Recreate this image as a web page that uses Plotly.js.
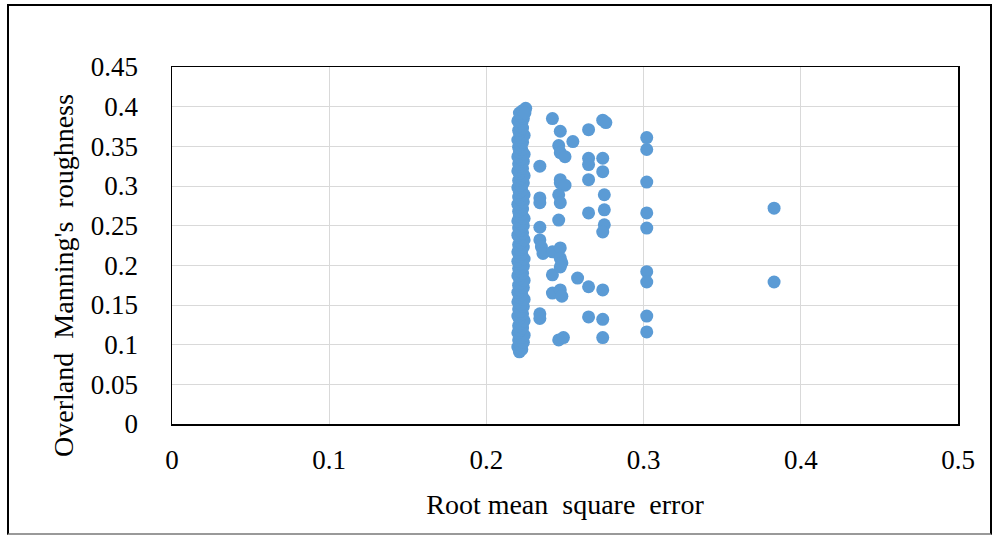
<!DOCTYPE html>
<html>
<head>
<meta charset="utf-8">
<script src="https://cdn.plot.ly/plotly-3.0.1.min.js"></script>
<style>
  html, body { margin: 0; padding: 0; background: #fff; }
  #wrap { position: relative; width: 996px; height: 536px; }
  #chart { position: absolute; left: 0; top: 0; width: 996px; height: 536px; }
  #frame { position: absolute; left: 7px; top: 4px; width: 981px; height: 527px;
           border: 2px solid #000; border-bottom-color: #999; pointer-events: none; }
</style>
</head>
<body>
<div id="wrap">
  <div id="chart"></div>
  <div id="frame"></div>
</div>
<script>
// Dense column of runs near RMSE 0.22
const rmseDense = [
  0.2210,0.2225,0.2200,0.2215,0.2235,0.2205,0.2220,0.2240,0.2200,0.2215,
  0.2230,0.2205,0.2220,0.2240,0.2210,0.2200,0.2230,0.2215,0.2205,0.2235,
  0.2220,0.2200,0.2240,0.2210,0.2225,0.2200,0.2215,0.2235,0.2205,0.2220,
  0.2240,0.2210,0.2200,0.2230,0.2215,0.2205,0.2235,0.2220,0.2200,0.2240,
  0.2210,0.2225,0.2200,0.2215,0.2235,0.2205,0.2220,0.2240,0.2210,0.2200,
  0.2230,0.2215,0.2205,0.2235,0.2220,0.2200,0.2240,0.2210,0.2225,0.2205,
  0.2230,0.2215,0.2200,0.2235,0.2220,0.2205,0.2240,0.2210,0.2225,0.2200,
  0.2215,0.2235,0.2205,0.2220,0.2240,0.2210,0.2200,0.2230,0.2215,0.2205,
  0.2235,0.2220,0.2200,0.2240,0.2210,0.2225,0.2205,0.2215,0.2230,0.2200,
  0.2220,0.2240,0.2210,0.2205,0.2230,0.2215,0.2225,0.2200,0.2235,0.2220,
  0.2210,0.2230,0.2250,0.2245
];
const roughDense = [
  0.091,0.094,0.097,0.100,0.103,0.106,0.109,0.112,0.115,0.118,
  0.121,0.124,0.127,0.130,0.133,0.136,0.139,0.142,0.145,0.148,
  0.151,0.154,0.157,0.160,0.163,0.166,0.169,0.172,0.175,0.178,
  0.181,0.184,0.187,0.190,0.193,0.196,0.199,0.202,0.205,0.208,
  0.211,0.214,0.217,0.220,0.223,0.226,0.229,0.232,0.235,0.238,
  0.241,0.244,0.247,0.250,0.253,0.256,0.259,0.262,0.265,0.268,
  0.271,0.274,0.277,0.280,0.283,0.286,0.289,0.292,0.295,0.298,
  0.301,0.304,0.307,0.310,0.313,0.316,0.319,0.322,0.325,0.328,
  0.331,0.334,0.337,0.340,0.343,0.346,0.349,0.352,0.355,0.358,
  0.361,0.364,0.367,0.370,0.373,0.376,0.379,0.382,0.385,0.388,
  0.392,0.395,0.398,0.392
];
// Scattered runs to the right of the dense column
const rmseSpread = [
  0.242,0.247,0.255,0.246,0.247,0.250,0.234,0.265,0.274,0.276,
  0.265,0.265,0.274,0.274,0.265,0.247,0.247,0.250,0.246,0.247,
  0.234,0.234,0.246,0.265,0.275,0.275,0.275,0.274,0.234,0.234,
  0.235,0.236,0.242,0.247,0.247,0.248,0.242,0.247,0.258,0.265,
  0.274,0.242,0.247,0.248,0.234,0.234,0.265,0.274,0.246,0.249,
  0.274,0.302,0.302,0.302,0.302,0.302,0.302,0.302,0.302,0.302,
  0.383,0.383
];
const roughSpread = [
  0.385,0.369,0.356,0.351,0.342,0.337,0.325,0.371,0.383,0.380,
  0.335,0.327,0.335,0.318,0.308,0.308,0.304,0.301,0.289,0.279,
  0.285,0.279,0.257,0.266,0.289,0.270,0.251,0.242,0.248,0.232,
  0.223,0.215,0.217,0.222,0.209,0.203,0.188,0.198,0.184,0.173,
  0.169,0.165,0.169,0.161,0.139,0.133,0.135,0.132,0.106,0.109,
  0.109,0.361,0.346,0.305,0.266,0.247,0.192,0.179,0.136,0.116,
  0.272,0.179
];
const xTickVals = [0, 0.1, 0.2, 0.3, 0.4, 0.5];
const xTickText = ['0', '0.1', '0.2', '0.3', '0.4', '0.5'];
const yTickVals = [0, 0.05, 0.1, 0.15, 0.2, 0.25, 0.3, 0.35, 0.4, 0.45];
const yTickText = ['0', '0.05', '0.1', '0.15', '0.2', '0.25', '0.3', '0.35', '0.4', '0.45'];

const xs = rmseDense.concat(rmseSpread);
const ys = roughDense.concat(roughSpread);

const FONT = 'Liberation Serif, Times New Roman, serif';

const trace = {
  x: xs, y: ys, type: 'scatter', mode: 'markers',
  marker: { color: '#5B9BD5', size: 13, line: { width: 0 } },
  hoverinfo: 'x+y', showlegend: false
};

const layout = {
  width: 996, height: 536,
  margin: { l: 172, r: 38, t: 67, b: 112, pad: 0 },
  paper_bgcolor: '#fff', plot_bgcolor: '#fff',
  font: { family: FONT, color: '#000', size: 27 },
  xaxis: {
    range: [0, 0.5], tickvals: xTickVals, ticktext: xTickText,
    showgrid: true, gridcolor: '#d9d9d9', gridwidth: 1,
    zeroline: false, showline: true, mirror: true, linecolor: '#000', linewidth: 1.5,
    ticks: '', ticklabelstandoff: 11,
    tickfont: { family: FONT, size: 27, color: '#000' },
    title: { text: 'Root mean&nbsp;&nbsp;square&nbsp;&nbsp;error', font: { family: FONT, size: 28, color: '#000' }, standoff: 20 },
    fixedrange: true
  },
  yaxis: {
    range: [0, 0.45], tickvals: yTickVals, ticktext: yTickText,
    showgrid: true, gridcolor: '#d9d9d9', gridwidth: 1,
    zeroline: false, showline: true, mirror: true, linecolor: '#000', linewidth: 1.5,
    ticks: '', ticklabelstandoff: 27,
    tickfont: { family: FONT, size: 27, color: '#000' },
    fixedrange: true
  },
  annotations: [{
    text: 'Overland&nbsp;&nbsp;Manning\'s&nbsp;&nbsp;roughness',
    xref: 'paper', yref: 'paper', x: -0.139, y: 0.417,
    xanchor: 'center', yanchor: 'middle', textangle: -90, showarrow: false,
    font: { family: FONT, size: 28, color: '#000' }
  }]
};

Plotly.newPlot('chart', [trace], layout, { displayModeBar: false, staticPlot: true });
</script>
</body>
</html>
